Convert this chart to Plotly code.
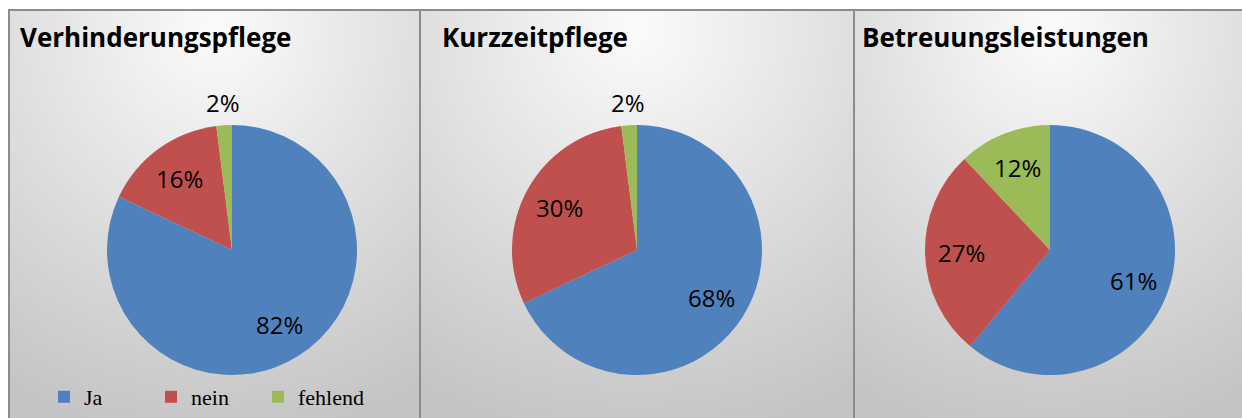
import base64
import math
import plotly.graph_objects as go

W, H = 1242, 418

categories = ["Ja", "nein", "fehlend"]
titles = ["Verhinderungspflege", "Kurzzeitpflege", "Betreuungsleistungen"]
verhinderung = [82, 16, 2]
kurzzeit = [68, 30, 2]
betreuung = [61, 27, 12]
series = [verhinderung, kurzzeit, betreuung]
colors = ["#4F81BD", "#C0504D", "#9BBB59"]

# layout geometry (pixels)
centers_x = [232, 637, 1050]
center_y = 250
radius = 125
panels = [(9, 420), (420, 854), (854, 1250)]
panel_top = 10
title_x = [18, 440, 860]

svg = """<svg xmlns='http://www.w3.org/2000/svg' width='400' height='420' preserveAspectRatio='none' viewBox='0 0 400 420'>
<defs><radialGradient id='g' cx='0.5' cy='0.05' r='1.0' fx='0.5' fy='0.05'>
<stop offset='0' stop-color='#fbfbfb'/><stop offset='0.55' stop-color='#dcdcdc'/><stop offset='1' stop-color='#c4c4c4'/>
</radialGradient></defs><rect width='400' height='420' fill='url(#g)'/></svg>"""
svg_uri = "data:image/svg+xml;base64," + base64.b64encode(svg.encode()).decode()

fig = go.Figure()
annotations = []
for i, (vals, cx) in enumerate(zip(series, centers_x)):
    fig.add_trace(go.Pie(
        labels=categories,
        values=vals,
        sort=False,
        direction="clockwise",
        rotation=0,
        marker=dict(colors=colors, line=dict(width=0)),
        textinfo="none",
        showlegend=(i == 0),
        domain=dict(x=[(cx - radius) / W, (cx + radius) / W],
                    y=[1 - (center_y + radius) / H, 1 - (center_y - radius) / H]),
        hoverinfo="label+percent",
        automargin=False,
    ))
    # data labels placed at each slice's mid-angle
    total = sum(vals)
    cum = 0
    for v in vals:
        mid = (cum + v / 2) / total * 2 * math.pi
        cum += v
        frac = 1.18 if v / total < 0.05 else 0.71
        px = cx + frac * radius * math.sin(mid)
        py = center_y - frac * radius * math.cos(mid)
        annotations.append(dict(text=f"{v}%", xref="paper", yref="paper",
                                x=px / W, y=1 - py / H, xanchor="center", yanchor="middle",
                                showarrow=False,
                                font=dict(family="Open Sans", size=24, color="#000000")))

images = []
shapes = []
for (x0, x1), tx, t in zip(panels, title_x, titles):
    images.append(dict(source=svg_uri, xref="paper", yref="paper",
                       x=x0 / W, y=1 - panel_top / H, sizex=(x1 - x0) / W,
                       sizey=(H - panel_top + 5) / H, sizing="stretch",
                       xanchor="left", yanchor="top", layer="below"))
    shapes.append(dict(type="rect", xref="paper", yref="paper",
                       x0=x0 / W, x1=x1 / W, y0=-0.05, y1=1 - panel_top / H,
                       line=dict(color="#8c8c8c", width=2), fillcolor="rgba(0,0,0,0)",
                       layer="above"))
    annotations.append(dict(text="<b>" + t + "</b>", xref="paper", yref="paper",
                            x=tx / W, y=1 - 37 / H, xanchor="left", yanchor="middle",
                            showarrow=False,
                            font=dict(family="Open Sans", size=26, color="#000000")))

fig.update_layout(
    width=W, height=H,
    margin=dict(l=0, r=0, t=0, b=0),
    paper_bgcolor="#ffffff",
    images=images,
    shapes=shapes,
    annotations=annotations,
    legend=dict(orientation="h", x=44 / W, y=0.0, xanchor="left", yanchor="bottom",
                font=dict(family="Liberation Serif", size=22, color="#000000"),
                bgcolor="rgba(0,0,0,0)", entrywidth=62, itemwidth=30,
                tracegroupgap=0),
)

fig.write_html("out.html", post_script="document.body.style.margin='0';",
               config={"displayModeBar": False})
